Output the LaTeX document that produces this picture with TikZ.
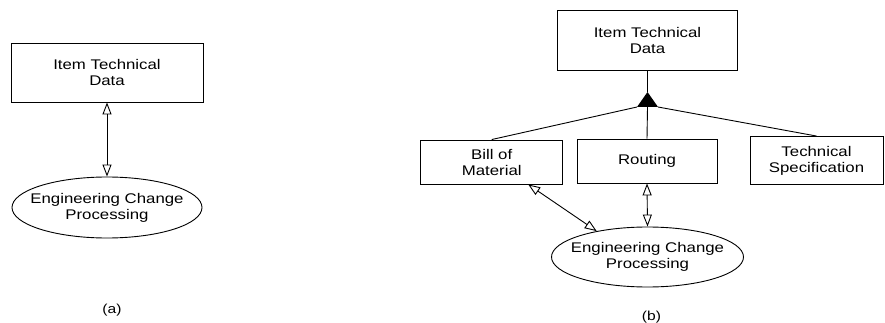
\documentclass[tikz,border=0pt]{standalone}
\usepackage{fontspec}
\setmainfont{Liberation Sans}[FakeStretch=1.2]
\usetikzlibrary{arrows.meta,shapes.geometric}
\begin{document}
\begin{tikzpicture}[x=1pt,y=-1pt,
  every node/.style={font=\fontsize{14}{16}\selectfont, align=center, inner sep=0pt},
  ent/.style={draw, line width=0.9pt, rectangle},
  proc/.style={draw, line width=0.9pt, ellipse},
  conn/.style={line width=0.9pt},
  rel/.style={line width=0.9pt, {Triangle[open,length=12pt,width=9pt]}-{Triangle[open,length=12pt,width=9pt]}},
  lbl/.style={font=\fontsize{13}{15}\selectfont}]
\useasboundingbox (0,0) rectangle (885,323);
% panel (a)
\node[ent, minimum width=192pt, minimum height=59pt] (atop) at (107,72.5) {Item Technical\\Data};
\node[proc, minimum width=190pt, minimum height=61pt] (aell) at (107,207.5) {};
\node (aelltxt) at (aell.center) {Engineering Change\\Processing};
\draw[rel] (atop.south) -- (aell.north);
\node[lbl] (alab) at (112,310) {(a)};
% panel (b)
\node[ent, minimum width=180pt, minimum height=60pt] (btop) at (647.5,40) {Item Technical\\Data};
\node[ent, minimum width=142pt, minimum height=44pt] (bom) at (491.7,162) {Bill of\\Material};
\node[ent, minimum width=140pt, minimum height=44pt] (rout) at (647,161) {Routing};
\node[ent, minimum width=133pt, minimum height=48pt] (tspec) at (816.5,160.5) {Technical\\Specification};
\node[proc, minimum width=192pt, minimum height=60pt] (bell) at (647.5,257) {};
\node (belltxt) at (bell.center) {Engineering Change\\Processing};
\coordinate (apex) at (647.5,92);
\coordinate (tl) at (637,107);
\coordinate (tr) at (658,107);
\coordinate (tb) at (647.5,107);
\draw[conn] (btop.south) -- (apex);
\fill (apex) -- (tl) -- (tr) -- cycle;
\draw[conn] (tl) -- (bom.north);
\draw[conn] (tb) -- (rout.north);
\draw[conn] (tr) -- (tspec.north);
\draw[rel] (rout.south) -- (bell.north);
\draw[rel] ([xshift=36.5pt]bom.south) -- (bell.153);
\node[lbl] (blab) at (651.5,317) {(b)};
\end{tikzpicture}
\end{document}
